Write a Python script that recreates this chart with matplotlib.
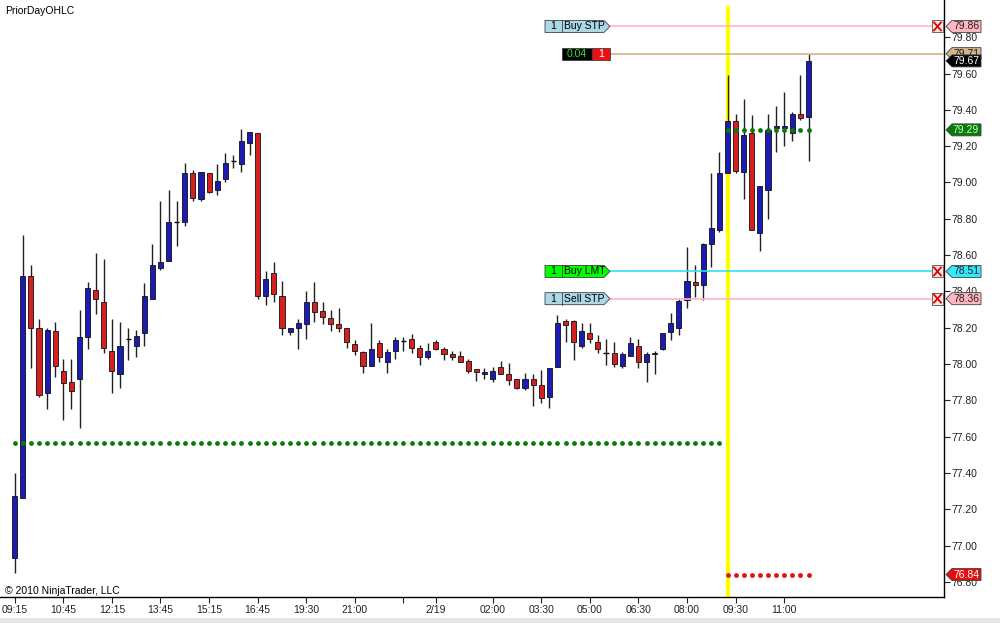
# NinjaTrader-style 15 min candlestick chart with PriorDayOHLC levels and order tags

import matplotlib.pyplot as plt
from matplotlib.patches import Polygon, Rectangle
import numpy as np

plt.rcParams['font.family'] = ['Liberation Sans', 'DejaVu Sans']

# bar data (15 min bars)
opens = [76.93, 77.26, 78.485, 78.20, 77.84, 78.18, 77.96, 77.90, 77.92, 78.15,
         78.41, 78.34, 78.07, 77.945, 78.14, 78.10, 78.17, 78.36, 78.53, 78.57,
         78.78, 78.78, 79.05, 78.91, 79.05, 78.96, 79.02, 79.12, 79.10, 79.22,
         79.27, 78.375, 78.50, 78.375, 78.175, 78.20, 78.22, 78.34, 78.29, 78.255,
         78.22, 78.20, 78.11, 78.066, 77.99, 78.115, 78.01, 78.07, 78.125, 78.14,
         78.09, 78.04, 78.12, 78.08, 78.055, 78.045, 78.017, 77.97, 77.945, 77.92,
         77.985, 77.945, 77.92, 77.87, 77.915, 77.885, 77.82, 77.985, 78.237, 78.237,
         78.10, 78.17, 78.12, 78.06, 78.06, 77.99, 78.044, 78.10, 78.01, 78.055,
         78.08, 78.175, 78.20, 78.35, 78.45, 78.435, 78.66, 78.74, 79.05, 79.34,
         79.06, 79.27, 78.72, 78.96, 79.30, 79.30, 79.27, 79.38, 79.36]
highs = [77.40, 78.71, 78.545, 78.25, 78.20, 78.23, 78.03, 78.03, 78.30, 78.45,
         78.61, 78.58, 78.25, 78.23, 78.20, 78.19, 78.445, 78.66, 78.90, 78.96,
         78.90, 79.11, 79.07, 79.06, 79.05, 79.10, 79.16, 79.15, 79.295, 79.28,
         79.27, 78.51, 78.56, 78.46, 78.20, 78.25, 78.40, 78.45, 78.34, 78.30,
         78.31, 78.20, 78.13, 78.07, 78.225, 78.13, 78.08, 78.15, 78.15, 78.165,
         78.105, 78.115, 78.13, 78.095, 78.07, 78.07, 78.03, 77.97, 77.98, 77.985,
         78.017, 78.005, 77.92, 77.95, 77.945, 77.965, 77.98, 78.27, 78.25, 78.24,
         78.225, 78.225, 78.16, 78.14, 78.12, 78.066, 78.15, 78.14, 78.066, 78.07,
         78.17, 78.28, 78.36, 78.645, 78.545, 78.667, 79.05, 79.17, 79.59, 79.38,
         79.46, 79.37, 78.98, 79.38, 79.42, 79.50, 79.39, 79.59, 79.71]
lows = [76.85, 77.26, 77.98, 77.82, 77.75, 77.93, 77.69, 77.75, 77.65, 78.08,
        78.275, 78.06, 77.84, 77.87, 78.02, 78.04, 78.10, 78.36, 78.52, 78.57,
        78.65, 78.76, 78.90, 78.90, 78.94, 78.93, 79.00, 79.08, 79.06, 79.15,
        78.36, 78.325, 78.34, 78.16, 78.16, 78.08, 78.14, 78.23, 78.22, 78.18,
        78.175, 78.09, 78.05, 77.95, 77.99, 78.01, 77.95, 78.03, 78.07, 78.06,
        77.995, 78.03, 78.075, 78.02, 78.02, 78.01, 77.95, 77.905, 77.92, 77.90,
        77.945, 77.885, 77.86, 77.855, 77.77, 77.785, 77.76, 77.985, 78.12, 78.02,
        78.09, 78.115, 78.06, 77.995, 77.985, 77.98, 78.044, 77.98, 77.90, 77.945,
        78.077, 78.13, 78.16, 78.31, 78.37, 78.35, 78.535, 78.73, 79.05, 79.05,
        78.91, 78.74, 78.62, 78.80, 79.17, 79.20, 79.23, 79.345, 79.12]
closes = [77.27, 78.485, 78.20, 77.83, 78.19, 77.99, 77.895, 77.85, 78.15, 78.42,
          78.36, 78.09, 77.96, 78.10, 78.14, 78.155, 78.375, 78.545, 78.56, 78.78,
          78.78, 79.05, 78.915, 79.06, 78.95, 79.01, 79.11, 79.12, 79.23, 79.28,
          78.375, 78.47, 78.385, 78.20, 78.20, 78.225, 78.34, 78.285, 78.26, 78.22,
          78.20, 78.12, 78.07, 77.99, 78.08, 78.04, 78.066, 78.13, 78.125, 78.09,
          78.04, 78.07, 78.08, 78.055, 78.04, 78.01, 77.96, 77.955, 77.956, 77.96,
          77.945, 77.91, 77.87, 77.915, 77.885, 77.81, 77.98, 78.225, 78.215, 78.12,
          78.18, 78.14, 78.08, 78.06, 78.00, 78.055, 78.115, 78.01, 78.055, 78.06,
          78.17, 78.225, 78.347, 78.46, 78.435, 78.66, 78.75, 79.05, 79.34, 79.065,
          79.26, 78.74, 78.98, 79.29, 79.31, 79.31, 79.38, 79.355, 79.67]

# PriorDayOHLC levels
old_level = 77.565      # shown before the new session
prior_high = 79.29
prior_low = 76.84
session_start = 88      # first bar of the new session (yellow line)

# orders on the chart: price, label, colour of tag / line
order_prices = [79.86, 78.51, 78.36]
order_labels = ['Buy STP', 'Buy LMT', 'Sell STP']
order_tag_colors = ['#add8e6', '#00ff00', '#add8e6']
order_line_colors = ['#ffb6c1', '#33e0f0', '#ffb6c1']
position_price = 79.71
last_price = 79.67

# axis labels
xtick_pos = [0, 6, 12, 18, 24, 30, 36, 42, 48, 52, 59, 65, 71, 77, 83, 89, 95]
xtick_labels = ['09:15', '10:45', '12:15', '13:45', '15:15', '16:45', '19:30', '21:00', '',
                '2/19', '02:00', '03:30', '05:00', '06:30', '08:00', '09:30', '11:00']
ytick_vals = [76.8, 77.0, 77.2, 77.4, 77.6, 77.8, 78.0, 78.2, 78.4, 78.6, 78.8, 79.0, 79.2, 79.4, 79.6, 79.8]

# pixel helpers (chart is 1000x623 px, bars 8.1 px apart, 181.5 px per 1.00)
X0, DX, PPY = 14.7, 8.1, 181.5
def X(px):
    return (px - X0) / DX
def DY(px):
    return px / PPY

fig = plt.figure(figsize=(10, 6.23), dpi=100)
ax = fig.add_axes([0, 26 / 623, 0.944, 597 / 623])
ax.set_xlim(X(0), X(944))
ax.set_ylim(78 - 233 / PPY, 78 + 364 / PPY)

idx = np.arange(len(opens))
o = np.array(opens); c = np.array(closes)

# session line
ax.axvline(session_start, ymin=0, ymax=1 - 8 / 597, color='#ffff00', lw=3, zorder=1)

# candles
ax.vlines(idx, lows, highs, color='#202020', lw=1, zorder=2)
up = c > o
dn = c < o
eq = c == o
ax.bar(idx[up], (c - o)[up], bottom=o[up], width=0.62, color='#1c1cb4',
       edgecolor='#101010', lw=0.6, zorder=3)
ax.bar(idx[dn], (c - o)[dn], bottom=o[dn], width=0.62, color='#d42020',
       edgecolor='#101010', lw=0.6, zorder=3)
ax.hlines(o[eq], idx[eq] - 0.31, idx[eq] + 0.31, color='#101010', lw=1, zorder=3)

# PriorDayOHLC dots
ax.scatter(idx[:session_start], [old_level] * session_start, s=12, color='#0a7a0a', zorder=4, lw=0)
n_new = len(opens) - session_start
ax.scatter(idx[session_start:], [prior_high] * n_new, s=12, color='#0a7a0a', zorder=4, lw=0)
ax.scatter(idx[session_start:], [prior_low] * n_new, s=12, color='#e01010', zorder=4, lw=0)

fs = 7.5
h = DY(6)

def right_tag(price, face, txt, tcol, z=12):
    pts = [(X(946), price), (X(952), price + h), (X(981), price + h),
           (X(981), price - h), (X(952), price - h)]
    ax.add_patch(Polygon(pts, closed=True, facecolor=face, edgecolor='#404040',
                         lw=0.6, clip_on=False, zorder=z))
    ax.text(X(966), price, txt, ha='center', va='center', fontsize=fs, color=tcol,
            clip_on=False, zorder=z + 1)

# order lines, tags and cancel boxes
for p, lab, tc, lc in zip(order_prices, order_labels, order_tag_colors, order_line_colors):
    ax.plot([X(610), X(931)], [p, p], color=lc, lw=1.2, zorder=5)
    pts = [(X(545), p - h), (X(545), p + h), (X(604), p + h), (X(610), p),
           (X(604), p - h)]
    ax.add_patch(Polygon(pts, closed=True, facecolor=tc, edgecolor='#404040', lw=0.6, zorder=6))
    ax.plot([X(562), X(562)], [p - h, p + h], color='#404040', lw=0.6, zorder=7)
    ax.text(X(553.5), p, '1', ha='center', va='center', fontsize=fs, zorder=8)
    ax.text(X(564), p, lab, ha='left', va='center', fontsize=fs, zorder=8)
    ax.add_patch(Rectangle((X(932), p - h), X(943) - X(932), 2 * h, facecolor='#ffe4e4',
                           edgecolor='#505050', lw=0.6, zorder=6))
    ax.plot([X(934), X(941)], [p - DY(4), p + DY(4)], color='#e00000', lw=1.3, zorder=7)
    ax.plot([X(934), X(941)], [p + DY(4), p - DY(4)], color='#e00000', lw=1.3, zorder=7)
    right_tag(p, lc if lc != '#33e0f0' else '#33e8f8', '%.2f' % p, '#202020')

# position line and PnL tag
ax.plot([X(610), X(944)], [position_price, position_price], color='#d2b48c', lw=1.2, zorder=5)
ax.add_patch(Rectangle((X(562), position_price - h), X(592) - X(562), 2 * h,
                       facecolor='#000000', edgecolor='#404040', lw=0.6, zorder=6))
ax.add_patch(Rectangle((X(592), position_price - h), X(610) - X(592), 2 * h,
                       facecolor='#ee1010', edgecolor='#404040', lw=0.6, zorder=6))
ax.text(X(577), position_price, '0.04', ha='center', va='center', fontsize=fs,
        color='#33dd33', zorder=8)
ax.text(X(601), position_price, '1', ha='center', va='center', fontsize=fs,
        color='white', zorder=8)

right_tag(position_price, '#d2b48c', '%.2f' % position_price, '#202020', z=12)
right_tag(last_price, '#000000', '%.2f' % last_price, 'white', z=14)
right_tag(prior_high, '#0a7a0a', '%.2f' % prior_high, '#c8ffc8', z=12)
right_tag(prior_low, '#e01010', '%.2f' % prior_low, 'white', z=12)

# axes styling
for s in ['left', 'top']:
    ax.spines[s].set_visible(False)
for s in ['right', 'bottom']:
    ax.spines[s].set_color('black')
    ax.spines[s].set_linewidth(1)
ax.yaxis.tick_right()
ax.set_yticks(ytick_vals)
ax.set_yticklabels(['%.2f' % v for v in ytick_vals])
ax.set_xticks(xtick_pos)
ax.set_xticklabels(xtick_labels)
ax.tick_params(axis='both', length=4, width=0.8, labelsize=fs, colors='#222222', pad=1.5)

fig.text(5 / 1000, 1 - 11 / 623, 'PriorDayOHLC', fontsize=fs, va='center', ha='left')
fig.text(5 / 1000, 1 - 591 / 623, '\u00a9 2010 NinjaTrader, LLC', fontsize=fs,
         va='center', ha='left')
fig.patches.append(Rectangle((0, 0), 1, 5 / 623, transform=fig.transFigure,
                             facecolor='#e6e6e6', edgecolor='none'))

fig.savefig('out.png', dpi=100)
